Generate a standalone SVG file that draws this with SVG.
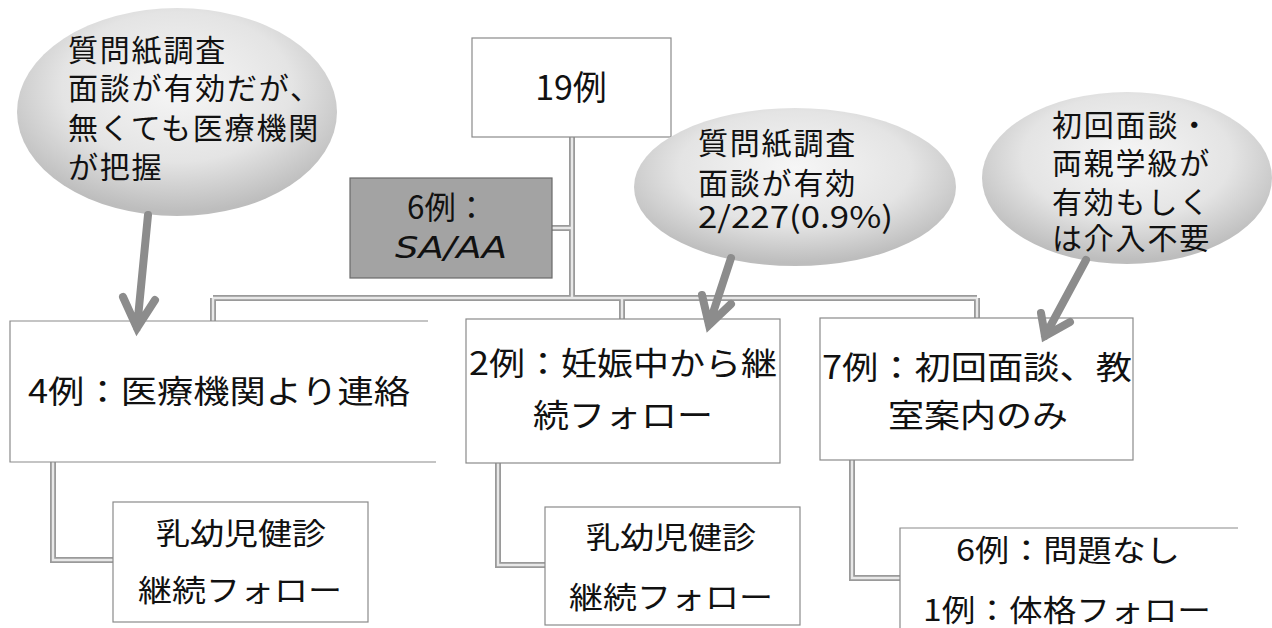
<svg xmlns="http://www.w3.org/2000/svg" width="1272" height="628" viewBox="0 0 1272 628">
<defs>
<radialGradient id="bub" cx="50%" cy="38%" r="60%">
<stop offset="0" stop-color="#f6f6f6"/>
<stop offset="0.6" stop-color="#e4e4e4"/>
<stop offset="1" stop-color="#bdbdbd"/>
</radialGradient>
<style>
.t{font-family:"Noto Sans CJK JP","Noto Sans",sans-serif;fill:#111;}
.b{font-size:30px;letter-spacing:1.8px;}
.box{fill:#fff;stroke:#8a8a8a;stroke-width:1.2;}
.open{fill:none;stroke:#8a8a8a;stroke-width:1.2;}
.co{fill:none;stroke:#9a9a9a;stroke-width:6;}
.ci{fill:none;stroke:#e8e8e8;stroke-width:2.4;}
.bub{fill:url(#bub);}
.arw{fill:none;stroke:#8c8c8c;stroke-width:8;stroke-linecap:round;stroke-linejoin:miter;}
.arwi{fill:none;stroke:#b4b4b4;stroke-width:3;stroke-linecap:round;}
</style>
</defs>
<rect width="1272" height="628" fill="#fff"/>

<g id="connectors">
<path class="co" d="M572,137 V298 M552,228 H572 M213,298 H977 M213,298 V321 M622,298 V319 M977,298 V318 M53,462 V560 H113 M498,463 V565 H545 M852,460 V578 H900"/>
<path class="ci" d="M572,137 V298 M552,228 H572 M213,298 H977 M213,298 V321 M622,298 V319 M977,298 V318 M53,462 V560 H113 M498,463 V565 H545 M852,460 V578 H900"/>
</g>

<g id="n-top">
<rect class="box" x="472" y="38" width="199" height="99"/>
<text class="t" x="571" y="100" font-size="34" text-anchor="middle">19例</text>
</g>

<g id="n-saaa">
<rect x="350" y="178" width="202" height="100" fill="#a3a3a3" stroke="#6a6a6a" stroke-width="1.2"/>
<text class="t" x="407" y="219" font-size="32" textLength="80" lengthAdjust="spacingAndGlyphs">6例：</text>
<text x="395" y="258" font-family="'DejaVu Sans',sans-serif" font-size="31" font-style="italic" fill="#111" textLength="112" lengthAdjust="spacingAndGlyphs">SA/AA</text>
</g>

<g id="n-left">
<path class="open" d="M428,321 H10 V462 H436" style="fill:#fff"/>
<text class="t" x="28" y="403" font-size="32" textLength="382" lengthAdjust="spacingAndGlyphs">4例：医療機関より連絡</text>
</g>

<g id="n-mid">
<rect class="box" x="466" y="319" width="314" height="144"/>
<text class="t" x="469" y="375" font-size="32" textLength="308" lengthAdjust="spacingAndGlyphs">2例：妊娠中から継</text>
<text class="t" x="623" y="427" font-size="32" text-anchor="middle" textLength="180" lengthAdjust="spacingAndGlyphs">続フォロー</text>
</g>

<g id="n-right">
<rect class="box" x="820" y="318" width="313" height="142"/>
<text class="t" x="822" y="379" font-size="32" textLength="310" lengthAdjust="spacingAndGlyphs">7例：初回面談、教</text>
<text class="t" x="978" y="427" font-size="32" text-anchor="middle" textLength="180" lengthAdjust="spacingAndGlyphs">室案内のみ</text>
</g>

<g id="n-left-sub">
<rect class="box" x="113" y="502" width="255" height="120"/>
<text class="t" x="241" y="544" font-size="30" text-anchor="middle" textLength="170" lengthAdjust="spacingAndGlyphs">乳幼児健診</text>
<text class="t" x="240" y="601" font-size="30" text-anchor="middle" textLength="204" lengthAdjust="spacingAndGlyphs">継続フォロー</text>
</g>

<g id="n-mid-sub">
<rect class="box" x="545" y="507" width="255" height="118"/>
<text class="t" x="671" y="548" font-size="30" text-anchor="middle" textLength="170" lengthAdjust="spacingAndGlyphs">乳幼児健診</text>
<text class="t" x="671" y="608" font-size="30" text-anchor="middle" textLength="204" lengthAdjust="spacingAndGlyphs">継続フォロー</text>
</g>

<g id="n-right-sub">
<path class="open" d="M1238,528 H900 V640" style="fill:#fff"/>
<text class="t" x="1068" y="561" font-size="30" text-anchor="middle" textLength="224" lengthAdjust="spacingAndGlyphs">6例：問題なし</text>
<text class="t" x="1067" y="621" font-size="30" text-anchor="middle" textLength="288" lengthAdjust="spacingAndGlyphs">1例：体格フォロー</text>
</g>

<g id="callout-1">
<ellipse class="bub" cx="177" cy="112" rx="160" ry="104"/>
<text class="t b" x="68" y="61">質問紙調査</text>
<text class="t b" x="68" y="99">面談が有効だが、</text>
<text class="t b" x="68" y="139">無くても医療機関</text>
<text class="t b" x="68" y="178">が把握</text>
</g>

<g id="callout-2">
<ellipse class="bub" cx="795" cy="187" rx="161" ry="79"/>
<text class="t b" x="698" y="154">質問紙調査</text>
<text class="t b" x="698" y="194">面談が有効</text>
<text class="t" x="698" y="228" font-size="30" textLength="195" lengthAdjust="spacingAndGlyphs">2/227(0.9%)</text>
</g>

<g id="callout-3">
<ellipse class="bub" cx="1127" cy="178" rx="145" ry="86"/>
<text class="t b" x="1052" y="136">初回面談・</text>
<text class="t b" x="1052" y="174">両親学級が</text>
<text class="t b" x="1052" y="213">有効もしく</text>
<text class="t b" x="1052" y="249">は介入不要</text>
</g>

<g id="arrows">
<path class="arw" d="M148,215 L137,328 M123,297 L137,328 L155,300"/>
<path class="arw" d="M731,258 L709,325 M702,295 L709,325 L731,304"/>
<path class="arw" d="M1086,260 L1045,336 M1041,313 L1045,336 L1070,322"/>
</g>
</svg>
